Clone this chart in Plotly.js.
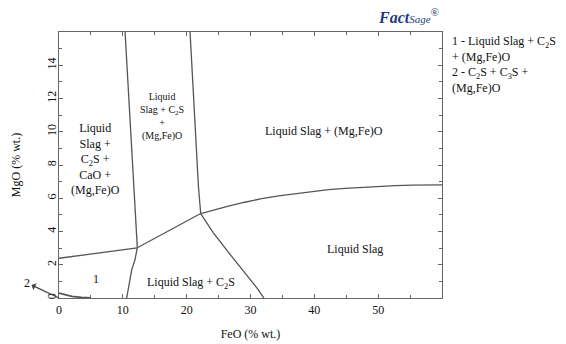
<!DOCTYPE html>
<html><head><meta charset="utf-8">
<script src="https://cdn.plot.ly/plotly-3.0.1.min.js"></script>
<style>html,body{margin:0;padding:0;background:#fff}#chart{width:566px;height:344px}</style>
</head><body><div id="chart"></div>
<script>
// Phase boundaries (FeO %wt, MgO %wt)
const b1_x = [10.35, 11.13, 11.76, 12.27];
const b1_y = [16, 10.73, 6.72, 3.02];
const b2_x = [12.27, 11.9, 11.4, 10.6];
const b2_y = [3.02, 2.3, 1.71, 0];
const b3_x = [0, 12.27];
const b3_y = [2.39, 3.02];
const b4_x = [12.27, 22.2];
const b4_y = [3.02, 5.08];
const b5_x = [20.53, 21.3, 21.84, 22.2];
const b5_y = [16, 10.73, 6.72, 5.08];
const b6_x = [22.2, 24.3, 26.54, 29.1, 31.77, 34.4, 36.99, 39.6, 42.2, 44.8, 47.45, 50.0, 52.66, 55.3, 57.9, 60];
const b6_y = [5.08, 5.31, 5.52, 5.76, 5.98, 6.14, 6.28, 6.41, 6.52, 6.60, 6.66, 6.72, 6.76, 6.79, 6.81, 6.81];
const b7_x = [22.2, 24.18, 26.8, 29.4, 31.2, 32.1];
const b7_y = [5.08, 3.92, 2.62, 1.41, 0.51, 0];
const b8_x = [0, 1, 2, 3.5, 5];
const b8_y = [0.3, 0.18, 0.1, 0.04, 0];

const xTicks = [0, 10, 20, 30, 40, 50];
const yTicks = [0, 2, 4, 6, 8, 10, 12, 14];

const regionLabels = [
  "Liquid<br>Slag +<br>C<sub>2</sub>S +<br>CaO +<br>(Mg,Fe)O",
  "Liquid<br>Slag + C<sub>2</sub>S<br>+<br>(Mg,Fe)O",
  "Liquid Slag + (Mg,Fe)O",
  "Liquid Slag",
  "Liquid Slag + C<sub>2</sub>S",
  "1"
];
const regionX = [5.7, 16.2, 41.5, 46.3, 20.6, 5.8];
const regionY = [8.35, 10.9, 10.07, 2.96, 0.93, 1.17];
const regionSize = [12, 10, 12, 12, 12, 12];

const noteText = "1 - Liquid Slag + C<sub>2</sub>S<br>+ (Mg,Fe)O<br>2 - C<sub>2</sub>S + C<sub>3</sub>S +<br>(Mg,Fe)O";

const lineColor = '#555555';
const font = 'Liberation Serif, Times New Roman, serif';

const bx = [b1_x, b2_x, b3_x, b4_x, b5_x, b6_x, b7_x, b8_x];
const by = [b1_y, b2_y, b3_y, b4_y, b5_y, b6_y, b7_y, b8_y];
const traces = bx.map((xs, i) => ({
  x: xs, y: by[i], mode: 'lines', type: 'scatter', hoverinfo: 'skip',
  line: {color: lineColor, width: i === 7 ? 1.8 : 1.3},
  showlegend: false
}));

const annotations = regionLabels.map((t, i) => ({
  x: regionX[i], y: regionY[i], xref: 'x', yref: 'y', text: t, showarrow: false,
  font: {family: font, size: regionSize[i], color: '#111'}, align: 'center'
}));
annotations.push({
  x: 1.02, y: 1.0, xref: 'paper', yref: 'paper', xanchor: 'left', yanchor: 'top',
  text: noteText, showarrow: false, align: 'left',
  font: {family: font, size: 12, color: '#111'}
});
annotations.push({
  x: 0, y: 0, xref: 'x', yref: 'y', ax: -32, ay: -15, text: '2',
  showarrow: true, arrowside: 'start', arrowhead: 2, arrowsize: 1, arrowwidth: 1.3,
  arrowcolor: '#444', font: {family: font, size: 12, color: '#111'}
});
annotations.push({
  x: 1.0, y: 1.0, xref: 'paper', yref: 'paper', xanchor: 'right', yanchor: 'bottom',
  yshift: 4,
  text: '<b><i>Fact</i></b><span style="font-size:11px"><i>Sage</i></span><sup>®</sup>', showarrow: false,
  font: {family: font, size: 16, color: '#1f3a78'}
});

const layout = {
  width: 566, height: 344,
  margin: {l: 59, r: 124, t: 32, b: 46},
  paper_bgcolor: '#fff', plot_bgcolor: '#fff',
  font: {family: font, size: 12, color: '#111'},
  xaxis: {
    range: [0, 60], tickmode: 'array', tickvals: xTicks, ticks: 'inside', ticklen: 4,
    tickcolor: '#666', showline: true, linecolor: '#666', linewidth: 1.3, mirror: 'allticks',
    showgrid: false, zeroline: false,
    minor: {dtick: 5, tick0: 0, ticks: 'inside', ticklen: 3, tickcolor: '#666', showgrid: false},
    title: {text: 'FeO (% wt.)', font: {family: font, size: 12}, standoff: 14},
    tickfont: {family: font, size: 12}
  },
  yaxis: {
    range: [0, 16], tickmode: 'array', tickvals: yTicks, ticks: 'inside', ticklen: 4,
    tickcolor: '#666', showline: true, linecolor: '#666', linewidth: 1.3, mirror: 'allticks',
    showgrid: false, zeroline: false, tickangle: -90, ticklabelstandoff: -3,
    minor: {dtick: 1, tick0: 0, ticks: 'inside', ticklen: 3, tickcolor: '#666', showgrid: false},
    title: {text: 'MgO (% wt.)', font: {family: font, size: 12}, standoff: 21},
    tickfont: {family: font, size: 12}
  },
  annotations: annotations
};

Plotly.newPlot('chart', traces, layout, {displayModeBar: false, staticPlot: true});
</script></body></html>
